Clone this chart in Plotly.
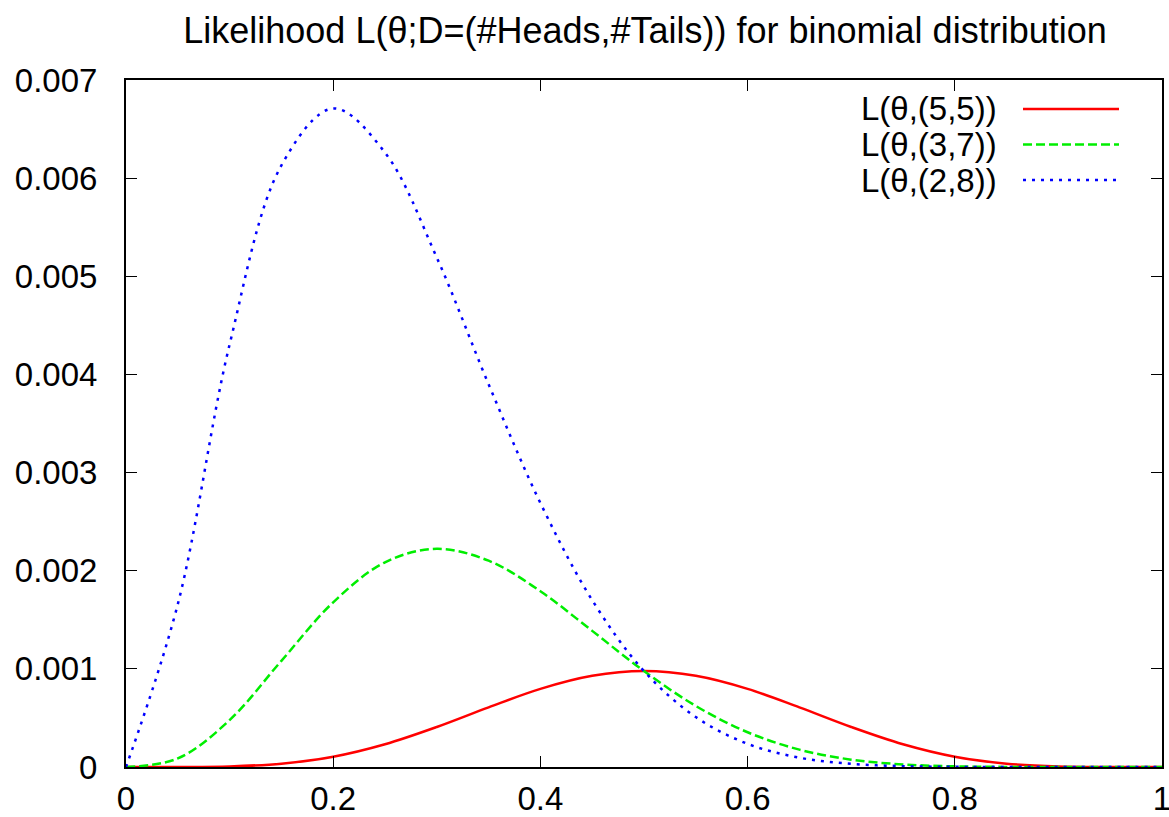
import plotly.graph_objects as go

theta = [0.00, 0.05, 0.10, 0.15, 0.20, 0.25, 0.30, 0.35, 0.40, 0.45, 0.50,
         0.55, 0.60, 0.65, 0.70, 0.75, 0.80, 0.85, 0.90, 0.95, 1.00]
L55 = [0, 0.0000002, 0.0000059, 0.0000338, 0.000105, 0.000232, 0.000408, 0.000608,
       0.000796, 0.000929, 0.000977, 0.000929, 0.000796, 0.000608, 0.000408, 0.000232,
       0.000105, 0.0000338, 0.0000059, 0.0000002, 0]
L37 = [0, 0.000087, 0.000478, 0.001082, 0.001678, 0.002086, 0.002223, 0.002102,
       0.001791, 0.001387, 0.000977, 0.000622, 0.000354, 0.000177, 0.000075, 0.000026,
       0.0000066, 0.000001, 0, 0, 0]
L28 = [0, 0.001659, 0.004305, 0.00613, 0.00671, 0.00626, 0.00519, 0.0039, 0.00269,
       0.0017, 0.000977, 0.000509, 0.000236, 0.000095, 0.000032, 0.0000086, 0.0000017,
       0, 0, 0, 0]

names = ["L(θ,(5,5))", "L(θ,(3,7))", "L(θ,(2,8))"]
colors = ["#ff0000", "#00ee00", "#0000ff"]
dashes = ["solid", "9px,4px", "3px,6px"]
series = [L55, L37, L28]

xticks = [0, 0.2, 0.4, 0.6, 0.8, 1]
xticktext = ["0", "0.2", "0.4", "0.6", "0.8", "1"]
yticks = [0, 0.001, 0.002, 0.003, 0.004, 0.005, 0.006, 0.007]
yticktext = ["0", "0.001", "0.002", "0.003", "0.004", "0.005", "0.006", "0.007"]

FONT = "Liberation Sans, Arial, Helvetica, sans-serif"

fig = go.Figure()
for nm, c, d, s in zip(names, colors, dashes, series):
    fig.add_trace(go.Scatter(x=theta, y=s, mode="lines", name=nm,
                             line=dict(color=c, width=2.5, dash=d, shape="spline"),
                             showlegend=False))

W, H = 1169, 817
ml, mr, mt, mb = 126, 7, 80, 50
pw, ph = W - ml - mr, H - mt - mb

def px_x(x):
    return (x - ml) / pw

def px_y(y):
    return (H - mb - y) / ph

shapes = []
annotations = []
for i, (nm, c, d) in enumerate(zip(names, colors, dashes)):
    yy = 109 + i * 35.5
    annotations.append(dict(x=px_x(999), y=px_y(yy), xref="paper", yref="paper",
                            text=nm, showarrow=False, xanchor="right", yanchor="middle",
                            font=dict(family=FONT, size=33, color="black")))
    shapes.append(dict(type="line", xref="paper", yref="paper",
                       x0=px_x(1023), x1=px_x(1119), y0=px_y(yy), y1=px_y(yy),
                       line=dict(color=c, width=2.5, dash=d)))

fig.update_layout(
    width=W, height=H,
    margin=dict(l=ml, r=mr, t=mt, b=mb, autoexpand=False),
    paper_bgcolor="white", plot_bgcolor="white",
    title=dict(text="Likelihood L(θ;D=(#Heads,#Tails)) for binomial distribution",
               xref="container", yref="container",
               x=645 / W, xanchor="center", y=1 - 30 / H, yanchor="middle",
               font=dict(family=FONT, size=36, color="black")),
    font=dict(family=FONT, color="black"),
    shapes=shapes, annotations=annotations,
    xaxis=dict(range=[0, 1], tickvals=xticks, ticktext=xticktext,
               showgrid=False, zeroline=False, showline=True, linecolor="black",
               linewidth=2, mirror="ticks", ticks="inside", ticklen=11, tickwidth=1,
               tickcolor="black", tickfont=dict(family=FONT, size=33, color="black"),
               ticklabelstandoff=1, ticklabeloverflow="allow"),
    yaxis=dict(range=[0, 0.007], tickvals=yticks, ticktext=yticktext,
               showgrid=False, zeroline=False, showline=True, linecolor="black",
               linewidth=2, mirror="ticks", ticks="inside", ticklen=11, tickwidth=1,
               tickcolor="black", tickfont=dict(family=FONT, size=33, color="black"),
               ticklabelstandoff=20),
)

fig.write_html("out.html")
